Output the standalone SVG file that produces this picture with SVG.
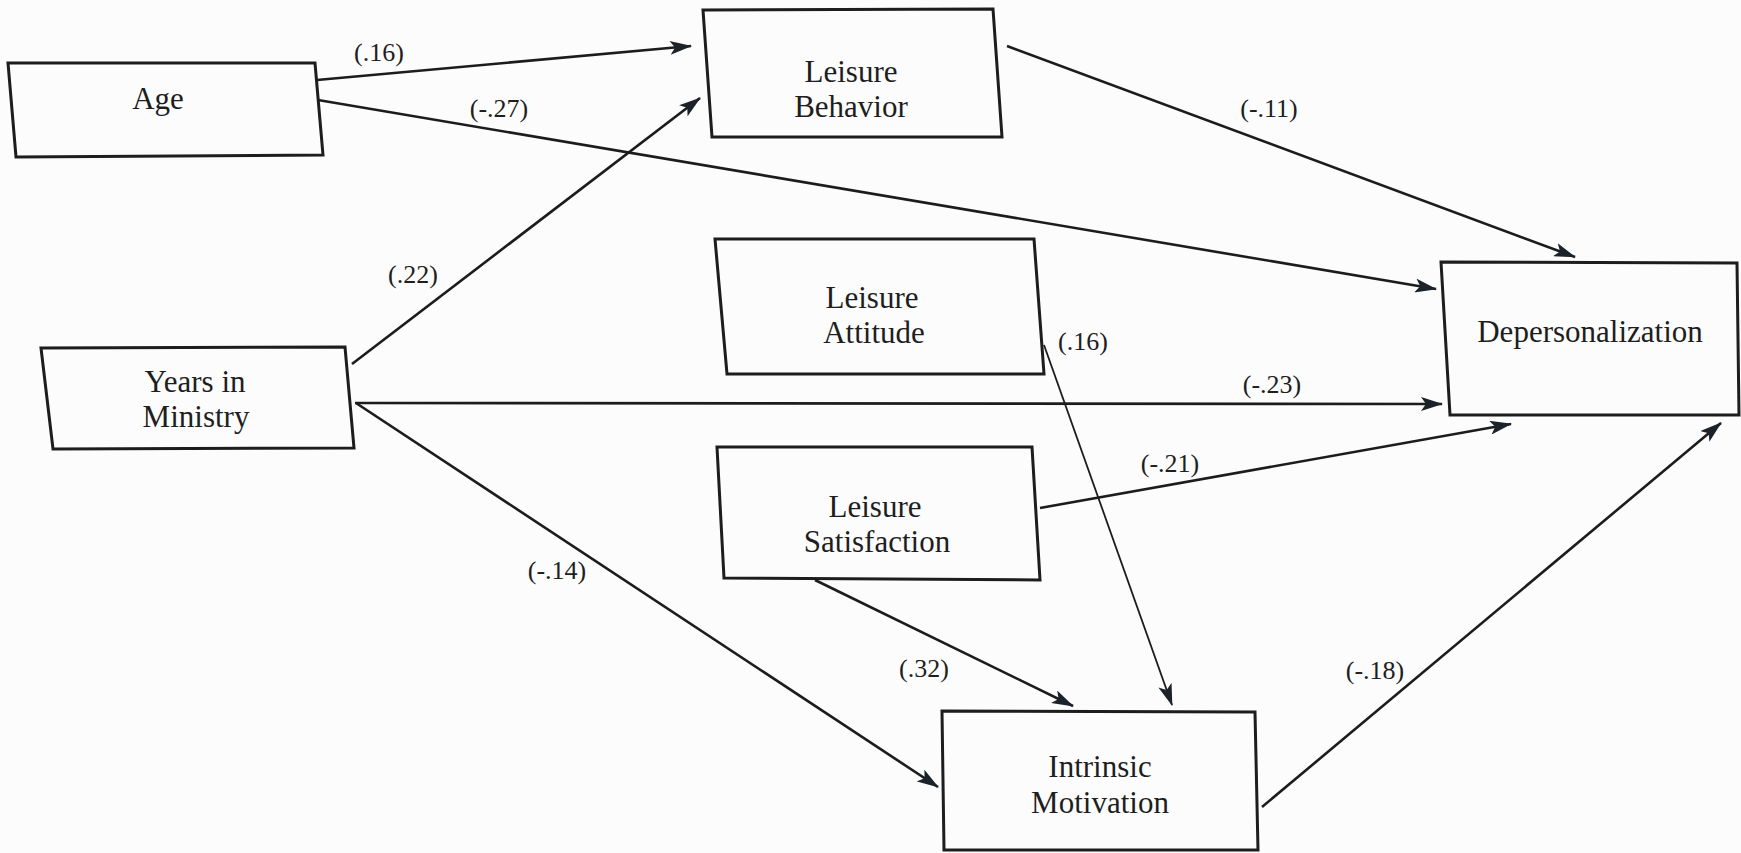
<svg xmlns="http://www.w3.org/2000/svg" width="1741" height="853" viewBox="0 0 1741 853">
  <defs>
    <marker id="arrow" viewBox="0 0 22 14" refX="21" refY="7" markerWidth="22" markerHeight="14" markerUnits="userSpaceOnUse" orient="auto">
      <path d="M0,0 L22,7 L0,14 L5,7 z" fill="#1c222a"/>
    </marker>
    <style>
      .box { fill: none; stroke: #1d1d1d; stroke-width: 3; stroke-linejoin: miter; }
      .lbl { font-family: "Liberation Serif", "Times New Roman", serif; font-size: 31px; fill: #1e1e1e; text-anchor: middle; }
      .coef { font-family: "Liberation Serif", "Times New Roman", serif; font-size: 26px; fill: #1e1e1e; text-anchor: middle; }
      .edge { fill: none; stroke: #1c1c1c; stroke-width: 2.6; marker-end: url(#arrow); }
      .thin { stroke-width: 1.8; }
    </style>
  </defs>

  <rect x="0" y="0" width="1741" height="853" fill="#fcfcfc"/>

  <!-- path connectors with standardized coefficients -->
  <g id="connectors">
    <path class="edge" d="M317,80 L691,46"/>
    <path class="edge" d="M318,100 L1436,289"/>
    <path class="edge" d="M352,364 L700,98"/>
    <path class="edge" d="M1007,46 L1575,257"/>
    <path class="edge" d="M355,403 L1442,404"/>
    <path class="edge thin" d="M1044,345 L1172,705"/>
    <path class="edge" d="M1040,508 L1511,424"/>
    <path class="edge" d="M356,403 L938,787"/>
    <path class="edge" d="M815,580 L1073,706"/>
    <path class="edge" d="M1262,807 L1721,423"/>

    <text class="coef" x="379" y="61">(.16)</text>
    <text class="coef" x="499" y="117">(-.27)</text>
    <text class="coef" x="413" y="283">(.22)</text>
    <text class="coef" x="1269" y="117">(-.11)</text>
    <text class="coef" x="1272" y="393">(-.23)</text>
    <text class="coef" x="1083" y="350">(.16)</text>
    <text class="coef" x="1170" y="472">(-.21)</text>
    <text class="coef" x="557" y="579">(-.14)</text>
    <text class="coef" x="924" y="677">(.32)</text>
    <text class="coef" x="1375" y="679">(-.18)</text>
  </g>

  <g id="age">
    <path class="box" d="M8,63 L315,63 L323,155 L16,157 Z"/>
    <text class="lbl" x="158" y="109">Age</text>
  </g>

  <g id="leisure-behavior">
    <path class="box" d="M703,10 L993,9 L1002,137 L712,137 Z"/>
    <text class="lbl" x="851" y="82">Leisure</text>
    <text class="lbl" x="851" y="117">Behavior</text>
  </g>

  <g id="years-in-ministry">
    <path class="box" d="M41,348 L345,347 L354,448 L53,449 Z"/>
    <text class="lbl" x="195" y="392">Years in</text>
    <text class="lbl" x="196" y="427">Ministry</text>
  </g>

  <g id="leisure-attitude">
    <path class="box" d="M715,239 L1034,239 L1044,374 L727,374 Z"/>
    <text class="lbl" x="872" y="308">Leisure</text>
    <text class="lbl" x="874" y="343">Attitude</text>
  </g>

  <g id="leisure-satisfaction">
    <path class="box" d="M717,447 L1032,447 L1040,580 L724,578 Z"/>
    <text class="lbl" x="875" y="517">Leisure</text>
    <text class="lbl" x="877" y="552">Satisfaction</text>
  </g>

  <g id="intrinsic-motivation">
    <path class="box" d="M942,711 L1255,712 L1258,850 L944,850 Z"/>
    <text class="lbl" x="1100" y="777">Intrinsic</text>
    <text class="lbl" x="1100" y="813">Motivation</text>
  </g>

  <g id="depersonalization">
    <path class="box" d="M1441,262 L1737,263 L1739,415 L1450,415 Z"/>
    <text class="lbl" x="1590" y="342">Depersonalization</text>
  </g>
</svg>
